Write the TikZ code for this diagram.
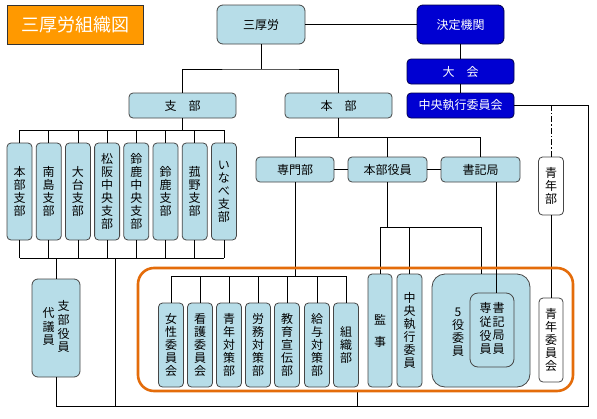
\documentclass[tikz,border=0pt]{standalone}
\usepackage{fontspec}
\newfontfamily\jp{Noto Sans CJK JP}
\definecolor{lb}{RGB}{183,221,232}
\definecolor{bl}{RGB}{0,0,210}
\definecolor{bd}{RGB}{70,70,70}
\definecolor{org}{RGB}{255,153,0}
\definecolor{frm}{RGB}{228,108,10}
\begin{document}
\begin{tikzpicture}[x=1pt,y=-1pt,
 base/.style={inner sep=0pt, font=\jp\fontsize{12}{13}\selectfont, align=center},
 lbox/.style={base, draw=bd, fill=lb, rounded corners=4pt, line width=0.8pt},
 bbox/.style={base, draw=black!70!blue, fill=bl, text=white, rounded corners=4pt, line width=0.8pt},
 wbox/.style={base, draw=bd, fill=white, rounded corners=4pt, line width=0.8pt},
 vbr/.style={lbox, minimum width=25pt, minimum height=97pt},
 vcm/.style={lbox, minimum width=25pt, minimum height=84pt},
 con/.style={draw=black, line width=0.8pt},
]
\useasboundingbox[fill=white] (0,0) rectangle (597,418);
% top
\node[base, draw=black!80, fill=org, text=white, minimum width=136pt, minimum height=39pt,
      font=\jp\fontsize{18}{20}\selectfont] (title) at (75,24.5) {三厚労組織図};
\node[lbox, minimum width=88pt, minimum height=39pt, rounded corners=6pt] (sank) at (261,24.5) {三厚労};
\node[bbox, minimum width=87pt, minimum height=39pt, rounded corners=6pt] (kettei) at (460.5,24.5) {決定機関};
\node[bbox, minimum width=107pt, minimum height=25pt] (taikai) at (460.5,71.5) {大　会};
\node[bbox, minimum width=107pt, minimum height=25pt] (chuo) at (460.5,105.5) {中央執行委員会};
\node[lbox, minimum width=107pt, minimum height=25pt] (shibu) at (182.5,105.5) {支　部};
\node[lbox, minimum width=107pt, minimum height=25pt] (honbu) at (338.5,105.5) {本　部};
% branches
\node[vbr] (b0) at (19.5,191.5) {本\\部\\支\\部};
\node[vbr] (b1) at (48.7,191.5) {南\\島\\支\\部};
\node[vbr] (b2) at (77.9,191.5) {大\\台\\支\\部};
\node[vbr] (b3) at (107.1,191.5) {松\\阪\\中\\央\\支\\部};
\node[vbr] (b4) at (136.3,191.5) {鈴\\鹿\\中\\央\\支\\部};
\node[vbr] (b5) at (165.5,191.5) {鈴\\鹿\\支\\部};
\node[vbr] (b6) at (194.7,191.5) {菰\\野\\支\\部};
\node[vbr] (b7) at (223.9,191.5) {い\\な\\べ\\支\\部};
\node[lbox, minimum width=48pt, minimum height=98pt, rounded corners=6pt] (dai) at (56,328)
  {\begin{tabular}{@{}c@{}}代\\議\\員\end{tabular}\hspace{3pt}\begin{tabular}{@{}c@{}}支\\部\\役\\員\end{tabular}};
% honbu level
\node[lbox, minimum width=78pt, minimum height=25pt] (senmon) at (295,169.5) {専門部};
\node[lbox, minimum width=79pt, minimum height=25pt] (honyaku) at (387.5,169.5) {本部役員};
\node[lbox, minimum width=79pt, minimum height=25pt] (shoki) at (480.5,169.5) {書記局};
\node[wbox, minimum width=25pt, minimum height=58pt] (seinenbu) at (551,186) {青\\年\\部};
\node[wbox, minimum width=24pt, minimum height=84pt] (seinenii) at (551,340) {青\\年\\委\\員\\会};
% committees
\node[vcm] (c1) at (171,345) {女\\性\\委\\員\\会};
\node[vcm] (c2) at (200,345) {看\\護\\委\\員\\会};
\node[vcm] (c3) at (229,345) {青\\年\\対\\策\\部};
\node[vcm] (c4) at (258,345) {労\\務\\対\\策\\部};
\node[vcm] (c5) at (287,345) {教\\育\\宣\\伝\\部};
\node[vcm] (c6) at (317,345) {給\\与\\対\\策\\部};
\node[vcm] (c7) at (346,345) {組\\織\\部};
\node[lbox, minimum width=24pt, minimum height=113pt] (kanji) at (380,330.5) {監\\[9pt]事};
\node[lbox, minimum width=25pt, minimum height=113pt] (chuoiin) at (409.5,330.5) {中\\央\\執\\行\\委\\員};
\node[lbox, minimum width=98pt, minimum height=113pt, rounded corners=13pt] (goyaku) at (481,330.5) {};
\node[base] (goyakut) at (458,332) {5\\役\\委\\員};
\node[lbox, minimum width=44pt, minimum height=74pt, rounded corners=8pt] (shokiin) at (492,330)
  {\begin{tabular}{@{}c@{}}専\\従\\役\\員\end{tabular}\hspace{1pt}\begin{tabular}{@{}c@{}}書\\記\\局\\員\end{tabular}};
% helper levels
\coordinate (h1) at (0,130);
\coordinate (h2) at (0,258);
\coordinate (h3) at (0,406);
\coordinate (h4) at (0,137);
\coordinate (h5) at (0,276);
\coordinate (h6) at (0,227);
\coordinate (h7) at (0,391);
\coordinate (j1) at (261,69);
\coordinate (rr) at (588,406);
\coordinate (x115) at (115,0);
\coordinate (x357) at (357,0);
% connectors
\draw[con] (sank.east) -- (kettei.west);
\draw[con] (kettei.south) -- (taikai.north);
\draw[con] (taikai.south) -- (chuo.north);
\draw[con] (sank.south) -- (j1);
\draw[con] (shibu.north) |- (j1) -| (honbu.north);
\draw[con] (shibu.south) -- (shibu.south |- h1);
\draw[con] (b0.north |- h1) -- (b7.north |- h1);
\draw[con] (b0.south |- h2) -- (b7.south |- h2);
\foreach \n in {b0,b1,b2,b3,b4,b5,b6,b7} {
  \draw[con] (\n.north) -- (\n.north |- h1);
  \draw[con] (\n.south) -- (\n.south |- h2);
}
\draw[con] (dai.north) -- (dai.north |- h2);
\draw[con] (x115 |- h2) -- (x115 |- h3);
\draw[con] (dai.south) -- (dai.south |- h3) -- (rr) -- (rr |- chuo.east) -- (chuo.east);
\draw[con] (honbu.south) -- (honbu.south |- h4);
\draw[con] (senmon.north) -- (senmon.north |- h4) -- (shoki.north |- h4) -- (shoki.north);
\draw[con] (honyaku.north) -- (honyaku.north |- h4);
\draw[con] (senmon.east) -- (honyaku.west);
\draw[con] (honyaku.east) -- (shoki.west);
\draw[con] (senmon.south) -- (senmon.south |- h5);
\draw[con] (c1.north |- h5) -- (c7.north |- h5);
\foreach \n in {c1,c2,c3,c4,c5,c6,c7} \draw[con] (\n.north) -- (\n.north |- h5);
\draw[con] (honyaku.south) -- (honyaku.south |- h6);
\draw[con] (kanji.north) -- (kanji.north |- h6) -- (goyaku.north |- h6) -- (goyaku.north);
\draw[con] (chuoiin.north) -- (chuoiin.north |- h6);
\draw[con] ([xshift=15.5pt]shoki.south) -- ([xshift=15.5pt]shoki.south |- shokiin.north);
\draw[con, dash pattern=on 6pt off 2pt on 1.5pt off 2pt] (seinenbu.north) -- (seinenbu.north |- chuo.east);
\draw[con] (seinenbu.south) -- (seinenii.north);
\draw[con] (x357 |- h7) -- (x357 |- h3);
% orange frame
\draw[frm, line width=2.6pt, rounded corners=16pt] (138,268) rectangle (573,391);
\end{tikzpicture}
\end{document}
